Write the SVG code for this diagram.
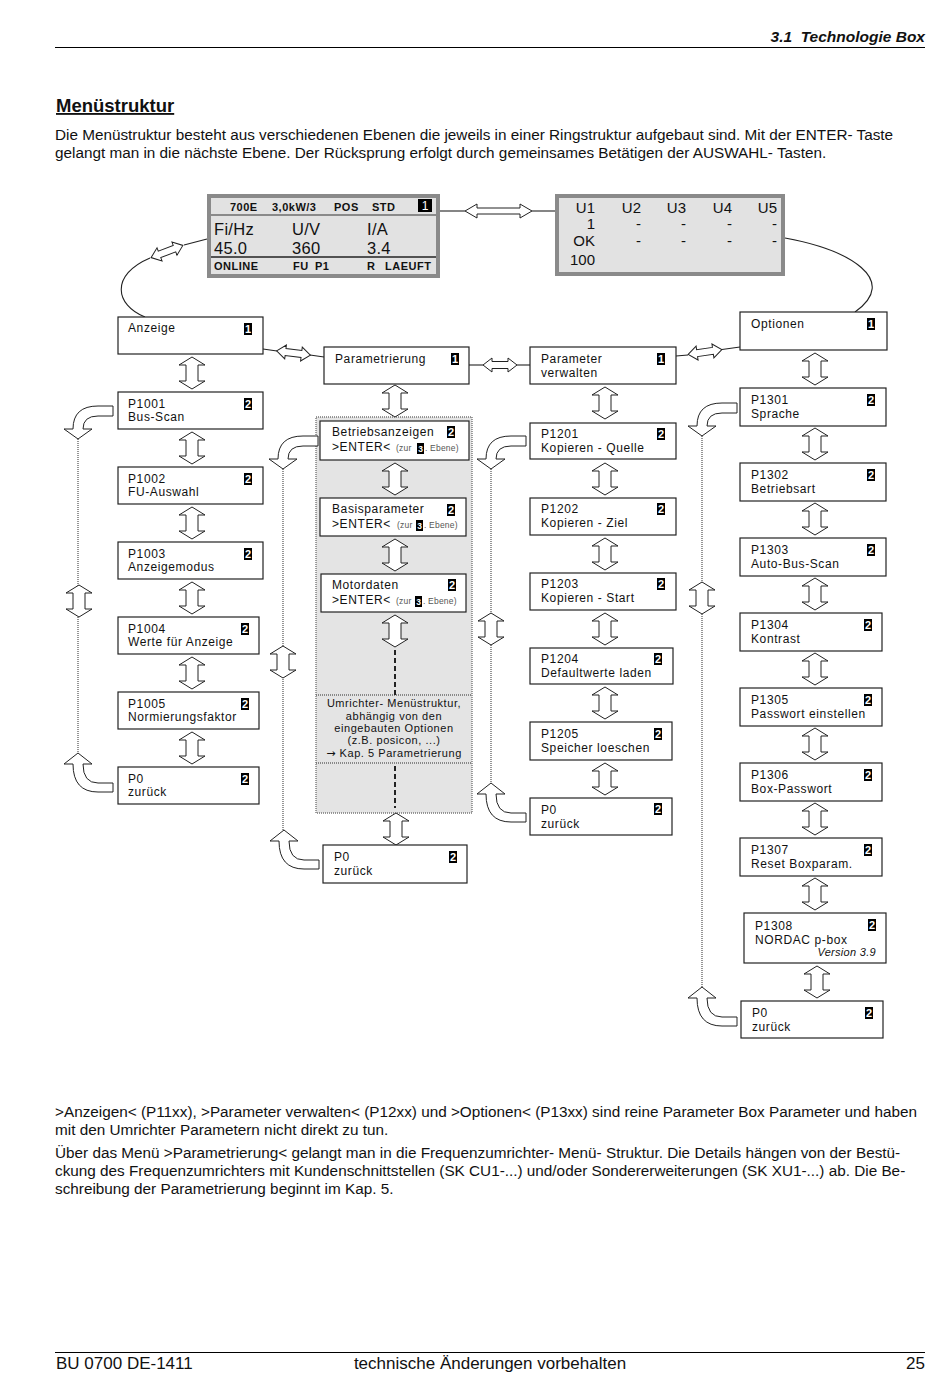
<svg xmlns="http://www.w3.org/2000/svg" width="950" height="1379" viewBox="0 0 950 1379">
<style>
text{font-family:"Liberation Sans",Arial,sans-serif;fill:#111}
.p{font-size:15.3px}
.n{font-size:12px;letter-spacing:0.6px}
.box{fill:#fff;stroke:#222;stroke-width:1.2}
.bk{fill:#000}
.bt{font-size:11px;font-weight:bold;fill:#fff;text-anchor:middle}
.ar{fill:#fff;stroke:#222;stroke-width:1}
.dot{fill:none;stroke:#6a6a6a;stroke-width:1.4;stroke-dasharray:1 1}
.ln{fill:none;stroke:#222;stroke-width:1.1}
.lcd{fill:#e2e2e2;stroke:#8a8a8a;stroke-width:4}
.z{font-size:8.5px;fill:#555;letter-spacing:0.2px}
.zb{font-size:8.5px;fill:#fff;font-weight:bold;text-anchor:middle}
.l1{font-size:11px;font-weight:bold;letter-spacing:0.5px}
.l2{font-size:16.5px;letter-spacing:0.3px}
.l3{font-size:15px;text-anchor:end}
.u{font-size:11px;letter-spacing:0.55px;text-anchor:middle}
.f{font-size:17px}
</style>
<defs>
<path id="va" class="ar" d="M0,-16 L13,-8 L6,-8 L6,8 L13,8 L0,16 L-13,8 L-6,8 L-6,-8 L-13,-8 Z"/>
<path id="ha" class="ar" d="M-17,0 L-8,-7 L-8,-3.5 L8,-3.5 L8,-7 L17,0 L8,7 L8,3.5 L-8,3.5 L-8,7 Z"/>
<path id="bendD" class="ar" d="M35,-33 L20,-33 Q-5,-33 -5,-10 L-14,-10 L0,0 L14,-10 L5,-10 Q5,-23 20,-23 L35,-23 Z"/>
<path id="bendU" class="ar" d="M35,30 L20,30 Q5,30 5,11 L14,11 L0,0 L-14,11 L-5,11 Q-5,39 20,39 L35,39 Z"/>
</defs>

<g id="page">
<text x="925" y="42" font-size="15.5" font-weight="bold" font-style="italic" text-anchor="end" xml:space="preserve">3.1  Technologie Box</text>
<line x1="55" y1="47.5" x2="925" y2="47.5" stroke="#000" stroke-width="1"/>
<text x="56" y="112" font-size="18.5" font-weight="bold" text-decoration="underline">Menüstruktur</text>
<text class="p" x="55" y="140">Die Menüstruktur besteht aus verschiedenen Ebenen die jeweils in einer Ringstruktur aufgebaut sind. Mit der ENTER- Taste</text>
<text class="p" x="55" y="158">gelangt man in die nächste Ebene. Der Rücksprung erfolgt durch gemeinsames Betätigen der AUSWAHL- Tasten.</text>
<text class="p" x="55" y="1117">&gt;Anzeigen&lt; (P11xx), &gt;Parameter verwalten&lt; (P12xx) und &gt;Optionen&lt; (P13xx) sind reine Parameter Box Parameter und haben</text>
<text class="p" x="55" y="1135">mit den Umrichter Parametern nicht direkt zu tun.</text>
<text class="p" x="55" y="1158">Über das Menü &gt;Parametrierung&lt; gelangt man in die Frequenzumrichter- Menü- Struktur. Die Details hängen von der Bestü-</text>
<text class="p" x="55" y="1176">ckung des Frequenzumrichters mit Kundenschnittstellen (SK CU1-...) und/oder Sondererweiterungen (SK XU1-...) ab. Die Be-</text>
<text class="p" x="55" y="1194">schreibung der Parametrierung beginnt im Kap. 5.</text>
<line x1="55" y1="1352.5" x2="925" y2="1352.5" stroke="#000" stroke-width="1"/>
<text class="f" x="56" y="1369">BU 0700 DE-1411</text>
<text class="f" x="490" y="1369" text-anchor="middle">technische Änderungen vorbehalten</text>
<text class="f" x="925" y="1369" text-anchor="end">25</text>
</g>

<g id="lcd1">
<rect class="lcd" x="209" y="196" width="229" height="80"/>
<line x1="211" y1="215" x2="436" y2="215" stroke="#333" stroke-width="1"/>
<line x1="211" y1="257" x2="436" y2="257" stroke="#222" stroke-width="1.6"/>
<rect class="bk" x="418" y="199" width="14" height="13"/>
<text x="425" y="210" font-size="12" text-anchor="middle" style="fill:#fff">1</text>
<text class="l1" x="230" y="211">700E</text>
<text class="l1" x="272" y="211">3,0kW/3</text>
<text class="l1" x="334" y="211">POS</text>
<text class="l1" x="372" y="211">STD</text>
<text class="l2" x="214" y="235">Fi/Hz</text>
<text class="l2" x="292" y="235">U/V</text>
<text class="l2" x="367" y="235">I/A</text>
<text class="l2" x="214" y="254">45.0</text>
<text class="l2" x="292" y="254">360</text>
<text class="l2" x="367" y="254">3.4</text>
<text class="l1" x="214" y="270">ONLINE</text>
<text class="l1" x="293" y="270">FU</text>
<text class="l1" x="315" y="270">P1</text>
<text class="l1" x="367" y="270">R</text>
<text class="l1" x="385" y="270">LAEUFT</text>
</g>

<g id="lcd2">
<rect class="lcd" x="557" y="196" width="226" height="78"/>
<text class="l3" x="595" y="213">U1</text>
<text class="l3" x="641" y="213">U2</text>
<text class="l3" x="686" y="213">U3</text>
<text class="l3" x="732" y="213">U4</text>
<text class="l3" x="777" y="213">U5</text>
<text class="l3" x="595" y="229">1</text>
<text class="l3" x="641" y="229">-</text>
<text class="l3" x="686" y="229">-</text>
<text class="l3" x="732" y="229">-</text>
<text class="l3" x="777" y="229">-</text>
<text class="l3" x="595" y="246">OK</text>
<text class="l3" x="641" y="246">-</text>
<text class="l3" x="686" y="246">-</text>
<text class="l3" x="732" y="246">-</text>
<text class="l3" x="777" y="246">-</text>
<text class="l3" x="595" y="265">100</text>
</g>

<g id="panel">
<rect x="316" y="417" width="156" height="396" fill="#e4e4e4" stroke="#777" stroke-width="1.4" stroke-dasharray="1 1"/>
<line class="dot" x1="316" y1="695" x2="472" y2="695"/>
<line class="dot" x1="316" y1="763" x2="472" y2="763"/>
<line x1="395" y1="650" x2="395" y2="695" stroke="#222" stroke-width="2" stroke-dasharray="5 3"/>
<line x1="395" y1="766" x2="395" y2="808" stroke="#222" stroke-width="2" stroke-dasharray="5 3"/>
<text class="u" x="394" y="707">Umrichter- Menüstruktur,</text>
<text class="u" x="394" y="720">abhängig von den</text>
<text class="u" x="394" y="732">eingebauten Optionen</text>
<text class="u" x="394" y="744">(z.B. posicon, ...)</text>
<text class="u" x="394" y="757"><tspan style="font-family:'DejaVu Sans',sans-serif">→</tspan> Kap. 5 Parametrierung</text>
</g>

<g id="connectors">
<line class="ln" x1="440" y1="211" x2="465" y2="211"/>
<path class="ar" d="M465,211 L477,204 L477,208 L520,208 L520,204 L532,211 L520,218 L520,214 L477,214 L477,218 Z"/>
<line class="ln" x1="532" y1="211" x2="555" y2="211"/>
<path class="ln" d="M207,239 L184,245"/>
<use href="#ha" transform="translate(167,251.5) rotate(-21)"/>
<path class="ln" d="M150,258 C110,275 115,305 145,317"/>
<path class="ln" d="M785,238 C850,250 900,280 855,312"/>
<line class="ln" x1="263" y1="349" x2="277" y2="351"/>
<use href="#ha" transform="translate(293.5,353) rotate(7)"/>
<line class="ln" x1="310" y1="355" x2="324" y2="357"/>
<line class="ln" x1="469" y1="365" x2="483" y2="365"/>
<use href="#ha" transform="translate(500,365)"/>
<line class="ln" x1="517" y1="365" x2="530" y2="365"/>
<line class="ln" x1="676" y1="356" x2="688" y2="355"/>
<use href="#ha" transform="translate(705,352) rotate(-8)"/>
<line class="ln" x1="722" y1="349.5" x2="740" y2="347"/>

<use href="#va" x="192" y="373"/>
<use href="#va" x="192" y="448"/>
<use href="#va" x="192" y="523"/>
<use href="#va" x="192" y="598"/>
<use href="#va" x="192" y="673"/>
<use href="#va" x="192" y="748"/>

<use href="#va" x="395" y="401"/>
<use href="#va" x="395" y="479"/>
<use href="#va" x="395" y="555"/>
<use href="#va" x="395" y="631"/>
<use href="#va" x="396" y="829"/>

<use href="#va" x="605" y="403"/>
<use href="#va" x="605" y="479"/>
<use href="#va" x="605" y="554"/>
<use href="#va" x="605" y="629"/>
<use href="#va" x="605" y="703"/>
<use href="#va" x="605" y="779"/>

<use href="#va" x="815" y="369"/>
<use href="#va" x="815" y="444"/>
<use href="#va" x="815" y="519"/>
<use href="#va" x="815" y="594"/>
<use href="#va" x="815" y="669"/>
<use href="#va" x="815" y="744"/>
<use href="#va" x="815" y="819"/>
<use href="#va" x="815" y="894"/>
<use href="#va" x="817" y="982"/>

<line class="dot" x1="78" y1="439" x2="78" y2="753"/>
<use href="#bendD" x="78" y="439"/>
<use href="#va" x="79" y="601"/>
<use href="#bendU" x="78" y="753"/>

<line class="dot" x1="283" y1="469" x2="283" y2="830"/>
<use href="#bendD" x="283" y="469"/>
<use href="#va" x="283" y="662"/>
<use href="#bendU" x="284" y="830"/>

<line class="dot" x1="491" y1="469" x2="491" y2="783"/>
<use href="#bendD" x="491" y="469"/>
<use href="#va" x="491" y="629"/>
<use href="#bendU" x="491" y="783"/>

<line class="dot" x1="702" y1="436" x2="702" y2="987"/>
<use href="#bendD" x="702" y="436"/>
<use href="#va" x="702" y="598"/>
<use href="#bendU" x="702" y="987"/>
</g>

<g id="n-anzeige"><rect class="box" x="118" y="317" width="145" height="37"/><text class="n" x="128" y="332">Anzeige</text><rect class="bk" x="244" y="323" width="8" height="12"/><text class="bt" x="248" y="333">1</text></g>
<g id="n-p1001"><rect class="box" x="118" y="392" width="145" height="37"/><text class="n" x="128" y="407.5">P1001</text><text class="n" x="128" y="421">Bus-Scan</text><rect class="bk" x="244" y="398" width="8" height="12"/><text class="bt" x="248" y="408">2</text></g>
<g id="n-p1002"><rect class="box" x="118" y="467" width="145" height="37"/><text class="n" x="128" y="482.5">P1002</text><text class="n" x="128" y="496">FU-Auswahl</text><rect class="bk" x="244" y="473" width="8" height="12"/><text class="bt" x="248" y="483">2</text></g>
<g id="n-p1003"><rect class="box" x="118" y="542" width="145" height="37"/><text class="n" x="128" y="557.5">P1003</text><text class="n" x="128" y="571">Anzeigemodus</text><rect class="bk" x="244" y="548" width="8" height="12"/><text class="bt" x="248" y="558">2</text></g>
<g id="n-p1004"><rect class="box" x="118" y="617" width="141" height="37"/><text class="n" x="128" y="632.5">P1004</text><text class="n" x="128" y="646">Werte für Anzeige</text><rect class="bk" x="241" y="623" width="8" height="12"/><text class="bt" x="245" y="633">2</text></g>
<g id="n-p1005"><rect class="box" x="118" y="692" width="141" height="37"/><text class="n" x="128" y="707.5">P1005</text><text class="n" x="128" y="721">Normierungsfaktor</text><rect class="bk" x="241" y="698" width="8" height="12"/><text class="bt" x="245" y="708">2</text></g>
<g id="n-p0-a"><rect class="box" x="118" y="767" width="141" height="37"/><text class="n" x="128" y="782.5">P0</text><text class="n" x="128" y="796">zurück</text><rect class="bk" x="241" y="773" width="8" height="12"/><text class="bt" x="245" y="783">2</text></g>

<g id="n-param"><rect class="box" x="324" y="347" width="145" height="37"/><text class="n" x="335" y="363">Parametrierung</text><rect class="bk" x="451" y="353" width="8" height="12"/><text class="bt" x="455" y="363">1</text></g>
<g id="n-betrieb"><rect class="box" x="320" y="421" width="149" height="39"/><text class="n" x="332" y="436">Betriebsanzeigen</text><text class="n" x="332" y="451">&gt;ENTER&lt;</text><text class="z" x="396" y="451">(zur</text><rect class="bk" x="417" y="443" width="7" height="11"/><text class="zb" x="420.5" y="451.5">3</text><text class="z" x="425" y="451">. Ebene)</text><rect class="bk" x="447" y="426" width="8" height="12"/><text class="bt" x="451" y="436">2</text></g>
<g id="n-basis"><rect class="box" x="320" y="498" width="146" height="38"/><text class="n" x="332" y="513">Basisparameter</text><text class="n" x="332" y="528">&gt;ENTER&lt;</text><text class="z" x="397" y="528">(zur</text><rect class="bk" x="416" y="520" width="7" height="11"/><text class="zb" x="419.5" y="528.5">3</text><text class="z" x="424" y="528">. Ebene)</text><rect class="bk" x="447" y="504" width="8" height="12"/><text class="bt" x="451" y="514">2</text></g>
<g id="n-motor"><rect class="box" x="321" y="574" width="145" height="38"/><text class="n" x="332" y="589">Motordaten</text><text class="n" x="332" y="604">&gt;ENTER&lt;</text><text class="z" x="396" y="604">(zur</text><rect class="bk" x="415" y="596" width="7" height="11"/><text class="zb" x="418.5" y="604.5">3</text><text class="z" x="423" y="604">. Ebene)</text><rect class="bk" x="448" y="579" width="8" height="12"/><text class="bt" x="452" y="589">2</text></g>
<g id="n-p0-b"><rect class="box" x="323" y="845" width="144" height="38"/><text class="n" x="334" y="861">P0</text><text class="n" x="334" y="875">zurück</text><rect class="bk" x="449" y="851" width="8" height="12"/><text class="bt" x="453" y="861">2</text></g>

<g id="n-pverw"><rect class="box" x="530" y="347" width="146" height="37"/><text class="n" x="541" y="363">Parameter</text><text class="n" x="541" y="377">verwalten</text><rect class="bk" x="657" y="353" width="8" height="12"/><text class="bt" x="661" y="363">1</text></g>
<g id="n-p1201"><rect class="box" x="530" y="423" width="146" height="36"/><text class="n" x="541" y="438">P1201</text><text class="n" x="541" y="452">Kopieren - Quelle</text><rect class="bk" x="657" y="428" width="8" height="12"/><text class="bt" x="661" y="438">2</text></g>
<g id="n-p1202"><rect class="box" x="530" y="498" width="146" height="37"/><text class="n" x="541" y="513">P1202</text><text class="n" x="541" y="527">Kopieren - Ziel</text><rect class="bk" x="657" y="503" width="8" height="12"/><text class="bt" x="661" y="513">2</text></g>
<g id="n-p1203"><rect class="box" x="530" y="573" width="146" height="37"/><text class="n" x="541" y="588">P1203</text><text class="n" x="541" y="602">Kopieren - Start</text><rect class="bk" x="657" y="578" width="8" height="12"/><text class="bt" x="661" y="588">2</text></g>
<g id="n-p1204"><rect class="box" x="530" y="648" width="143" height="36"/><text class="n" x="541" y="663">P1204</text><text class="n" x="541" y="677">Defaultwerte laden</text><rect class="bk" x="654" y="653" width="8" height="12"/><text class="bt" x="658" y="663">2</text></g>
<g id="n-p1205"><rect class="box" x="530" y="722" width="142" height="38"/><text class="n" x="541" y="738">P1205</text><text class="n" x="541" y="752">Speicher loeschen</text><rect class="bk" x="654" y="728" width="8" height="12"/><text class="bt" x="658" y="738">2</text></g>
<g id="n-p0-c"><rect class="box" x="530" y="798" width="142" height="37"/><text class="n" x="541" y="814">P0</text><text class="n" x="541" y="828">zurück</text><rect class="bk" x="654" y="803" width="8" height="12"/><text class="bt" x="658" y="813">2</text></g>

<g id="n-opt"><rect class="box" x="740" y="312" width="147" height="38"/><text class="n" x="751" y="328">Optionen</text><rect class="bk" x="867" y="318" width="8" height="12"/><text class="bt" x="871" y="328">1</text></g>
<g id="n-p1301"><rect class="box" x="740" y="388" width="146" height="38"/><text class="n" x="751" y="404">P1301</text><text class="n" x="751" y="418">Sprache</text><rect class="bk" x="867" y="394" width="8" height="12"/><text class="bt" x="871" y="404">2</text></g>
<g id="n-p1302"><rect class="box" x="740" y="463" width="146" height="38"/><text class="n" x="751" y="479">P1302</text><text class="n" x="751" y="493">Betriebsart</text><rect class="bk" x="867" y="469" width="8" height="12"/><text class="bt" x="871" y="479">2</text></g>
<g id="n-p1303"><rect class="box" x="740" y="538" width="146" height="38"/><text class="n" x="751" y="554">P1303</text><text class="n" x="751" y="568">Auto-Bus-Scan</text><rect class="bk" x="867" y="544" width="8" height="12"/><text class="bt" x="871" y="554">2</text></g>
<g id="n-p1304"><rect class="box" x="740" y="613" width="142" height="38"/><text class="n" x="751" y="629">P1304</text><text class="n" x="751" y="643">Kontrast</text><rect class="bk" x="864" y="619" width="8" height="12"/><text class="bt" x="868" y="629">2</text></g>
<g id="n-p1305"><rect class="box" x="740" y="688" width="142" height="38"/><text class="n" x="751" y="704">P1305</text><text class="n" x="751" y="718">Passwort einstellen</text><rect class="bk" x="864" y="694" width="8" height="12"/><text class="bt" x="868" y="704">2</text></g>
<g id="n-p1306"><rect class="box" x="740" y="763" width="142" height="38"/><text class="n" x="751" y="779">P1306</text><text class="n" x="751" y="793">Box-Passwort</text><rect class="bk" x="864" y="769" width="8" height="12"/><text class="bt" x="868" y="779">2</text></g>
<g id="n-p1307"><rect class="box" x="740" y="838" width="142" height="38"/><text class="n" x="751" y="854">P1307</text><text class="n" x="751" y="868">Reset Boxparam.</text><rect class="bk" x="864" y="844" width="8" height="12"/><text class="bt" x="868" y="854">2</text></g>
<g id="n-p1308"><rect class="box" x="744" y="913" width="142" height="50"/><text class="n" x="755" y="930">P1308</text><text class="n" x="755" y="944">NORDAC p-box</text><text x="876" y="956" font-size="11" font-style="italic" text-anchor="end" letter-spacing="0.3">Version 3.9</text><rect class="bk" x="868" y="919" width="8" height="12"/><text class="bt" x="872" y="929">2</text></g>
<g id="n-p0-d"><rect class="box" x="741" y="1001" width="142" height="37"/><text class="n" x="752" y="1017">P0</text><text class="n" x="752" y="1031">zurück</text><rect class="bk" x="865" y="1007" width="8" height="12"/><text class="bt" x="869" y="1017">2</text></g>
</svg>
